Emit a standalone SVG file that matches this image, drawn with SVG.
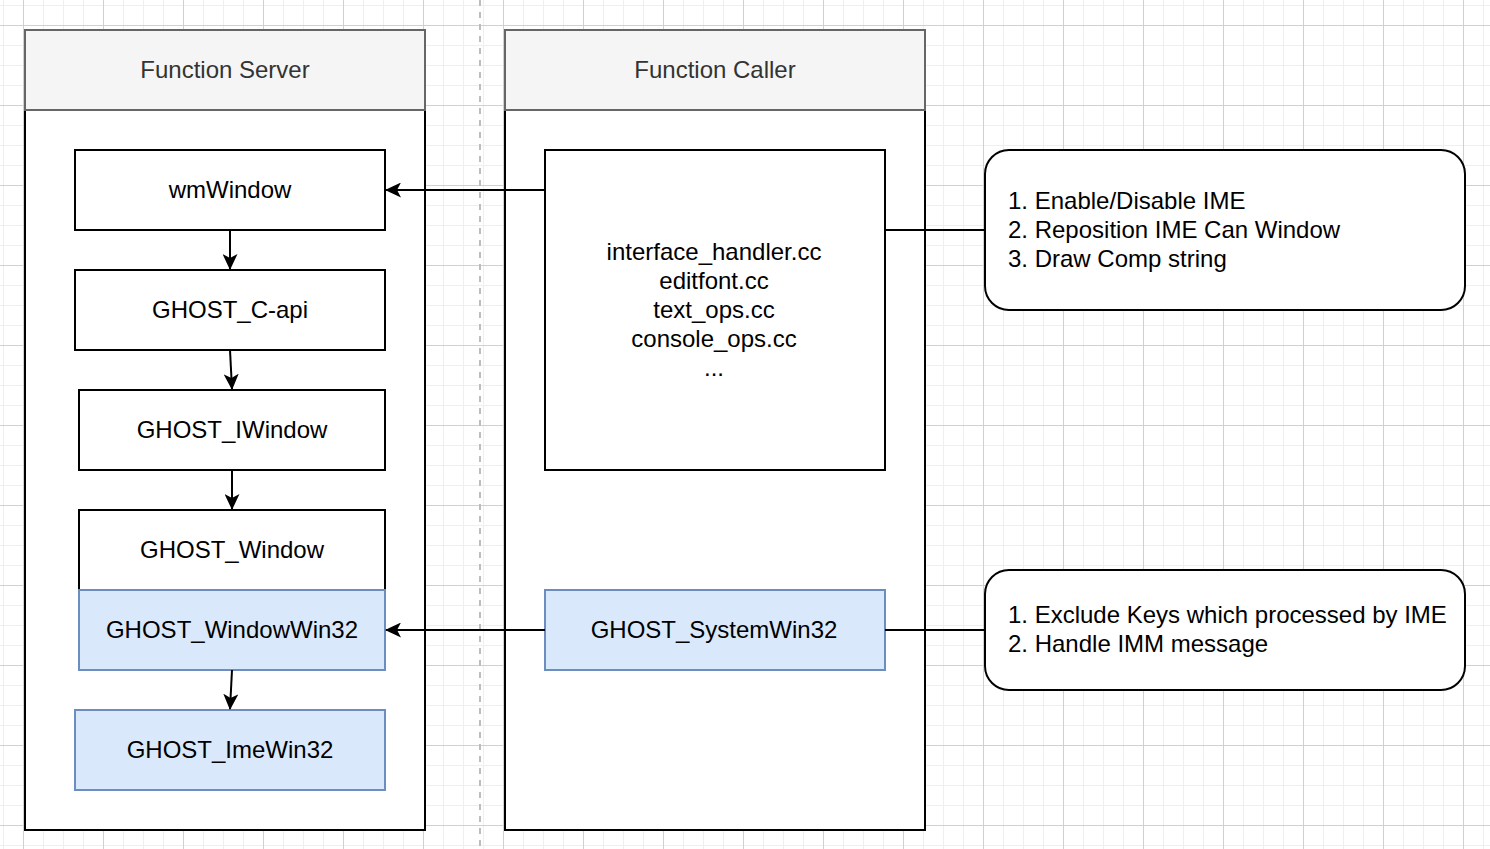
<svg xmlns="http://www.w3.org/2000/svg" width="1490" height="849" viewBox="0 0 1490 849">
<defs>
<pattern id="minor" patternUnits="userSpaceOnUse" x="3" y="5" width="20" height="20">
<path d="M0 0.5 H20 M0.5 0 V20" stroke="#efefef" stroke-width="1" fill="none"/>
</pattern>
<pattern id="major" patternUnits="userSpaceOnUse" x="23" y="25" width="80" height="80">
<path d="M0 0.5 H80 M0.5 0 V80" stroke="#d0d0d0" stroke-width="1" fill="none"/>
</pattern>
<marker id="arr" viewBox="0 0 16 15" refX="15" refY="7.5" markerWidth="16" markerHeight="15" markerUnits="userSpaceOnUse" orient="auto">
<path d="M0 0 L16 7.5 L0 15 L4 7.5 Z" fill="#000"/>
</marker>
<style>
.lane{fill:#fff;stroke:#000;stroke-width:2}
.hdr{fill:#f5f5f5;stroke:#666;stroke-width:2}
.box{fill:#fff;stroke:#000;stroke-width:2}
.blue{fill:#dae8fc;stroke:#6c8ebf;stroke-width:2}
.call{fill:#fff;stroke:#000;stroke-width:2}
text{font-family:"Liberation Sans",Arial,sans-serif;font-size:24px;fill:#000}
.c{text-anchor:middle}
.h{fill:#333}
.edge{stroke:#000;stroke-width:2;fill:none}
</style>
</defs>
<rect width="1490" height="849" fill="#fff"/>
<rect width="1490" height="849" fill="url(#minor)"/>
<rect width="1490" height="849" fill="url(#major)"/>
<line x1="480" y1="0" x2="480" y2="849" stroke="#bdbdbd" stroke-width="2" stroke-dasharray="6 6"/>

<g id="lane-server">
<rect class="lane" x="25" y="30" width="400" height="800"/>
<rect class="hdr" x="25" y="30" width="400" height="80"/>
<text class="c h" x="225" y="77.5">Function Server</text>
</g>
<g id="lane-caller">
<rect class="lane" x="505" y="30" width="420" height="800"/>
<rect class="hdr" x="505" y="30" width="420" height="80"/>
<text class="c h" x="715" y="77.5">Function Caller</text>
</g>

<g id="n-wmWindow"><rect class="box" x="75" y="150" width="310" height="80"/><text class="c" x="230" y="197.5">wmWindow</text></g>
<g id="n-capi"><rect class="box" x="75" y="270" width="310" height="80"/><text class="c" x="230" y="317.5">GHOST_C-api</text></g>
<g id="n-iwindow"><rect class="box" x="79" y="390" width="306" height="80"/><text class="c" x="232" y="437.5">GHOST_IWindow</text></g>
<g id="n-window"><rect class="box" x="79" y="510" width="306" height="80"/><text class="c" x="232" y="557.5">GHOST_Window</text></g>
<g id="n-windowwin32"><rect class="blue" x="79" y="590" width="306" height="80"/><text class="c" x="232" y="637.5">GHOST_WindowWin32</text></g>
<g id="n-imewin32"><rect class="blue" x="75" y="710" width="310" height="80"/><text class="c" x="230" y="757.5">GHOST_ImeWin32</text></g>

<g id="n-files"><rect class="box" x="545" y="150" width="340" height="320"/>
<text class="c" x="714" y="259.5">interface_handler.cc</text>
<text class="c" x="714" y="288.5">editfont.cc</text>
<text class="c" x="714" y="317.5">text_ops.cc</text>
<text class="c" x="714" y="346.5">console_ops.cc</text>
<text class="c" x="714" y="375.5">...</text>
</g>
<g id="n-systemwin32"><rect class="blue" x="545" y="590" width="340" height="80"/><text class="c" x="714" y="637.5">GHOST_SystemWin32</text></g>

<g id="n-note1"><rect class="call" x="985" y="150" width="480" height="160" rx="24" ry="24"/>
<text x="1008" y="208.5">1. Enable/Disable IME</text>
<text x="1008" y="237.5">2. Reposition IME Can Window</text>
<text x="1008" y="266.5">3. Draw Comp string</text>
</g>
<g id="n-note2"><rect class="call" x="985" y="570" width="480" height="120" rx="24" ry="24"/>
<text x="1008" y="622.5">1. Exclude Keys which processed by IME</text>
<text x="1008" y="651.5">2. Handle IMM message</text>
</g>

<g id="connectors">
<path class="edge" d="M230 230 V269" marker-end="url(#arr)"/>
<path class="edge" d="M230 350 L232 389" marker-end="url(#arr)"/>
<path class="edge" d="M232 470 V509" marker-end="url(#arr)"/>
<path class="edge" d="M232 670 L230 709" marker-end="url(#arr)"/>
<path class="edge" d="M545 190 H386" marker-end="url(#arr)"/>
<path class="edge" d="M545 630 H386" marker-end="url(#arr)"/>
<path class="edge" d="M885 230 H985"/>
<path class="edge" d="M885 630 H985"/>
</g>
</svg>
